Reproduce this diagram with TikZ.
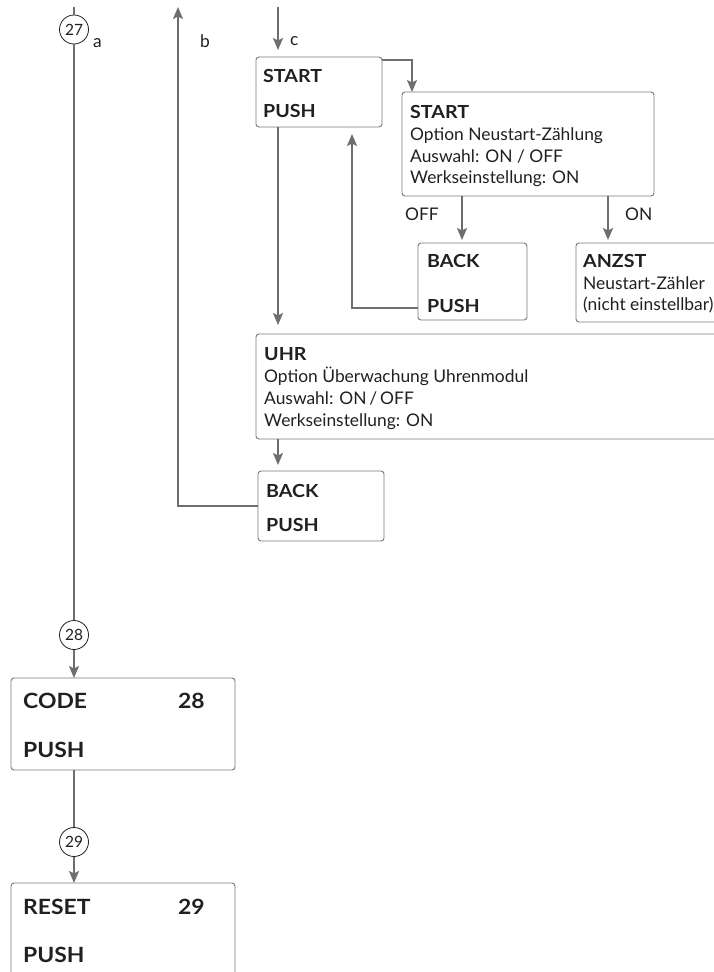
\documentclass[tikz,border=0pt]{standalone}
\usepackage{fontspec}
\setmainfont{Lato}[BoldFeatures={FakeStretch=1.09}]
\usetikzlibrary{arrows.meta}
\definecolor{linegray}{HTML}{6D6E71}
\definecolor{boxgray}{HTML}{77787B}
\definecolor{ink}{HTML}{231F20}
\tikzset{
  box/.style={draw=boxgray, line width=0.9pt, rounded corners=3pt, anchor=north west, inner sep=0pt, outer sep=0pt},
  conn/.style={draw=linegray, line width=2pt},
  arr/.style={conn, -{Stealth[length=12pt,width=10pt,inset=2.5pt]}},
  tx/.style={anchor=base west, inner sep=0pt, text=ink, font=\fontsize{17.4}{21}\selectfont},
  bx/.style={tx, font=\fontsize{18}{21}\selectfont\bfseries},
  bigbx/.style={tx, font=\fontsize{21}{25}\selectfont\bfseries},
  num/.style={circle, draw=ink, line width=0.8pt, minimum size=29pt, inner sep=0pt, text=ink, font=\fontsize{15.5}{17}\selectfont, fill=white},
}
\begin{document}
\begin{tikzpicture}[x=1pt, y=-1pt]
\clip (0,0) rectangle (714,972);
% free ends
\coordinate (atop) at (74,7);
\coordinate (btop) at (178,7);
\coordinate (ctop) at (278,7);
% boxes
\node[box, minimum width=126pt, minimum height=70pt] (start1) at (256,57) {};
\node[box, minimum width=252pt, minimum height=104pt] (start2) at (402,92) {};
\node[box, minimum width=109pt, minimum height=77pt] (back1) at (418,243) {};
\node[box, minimum width=170pt, minimum height=79pt] (anzst) at (576,243) {};
\node[box, minimum width=480pt, minimum height=105pt] (uhr) at (256,334) {};
\node[box, minimum width=126pt, minimum height=70pt] (back2) at (258,471) {};
\node[box, minimum width=224pt, minimum height=92pt] (code) at (11,678) {};
\node[box, minimum width=224pt, minimum height=120pt] (reset) at (11,883) {};
% numbered circles
\node[num] (c27) at (74,29.5) {27};
\node[num] (c28) at (74,635) {28};
\node[num] (c29) at (74,842) {29};
% texts
\node[tx] (la) at (93,47) {a};
\node[tx] (lb) at (200,47) {b};
\node[tx] (lc) at (290,45) {c};
\node[bx] (t1a) at (263,82) {START};
\node[bx] (t1b) at (263,117) {PUSH};
\node[bx] (t2a) at (410,118) {START};
\node[tx] (t2b) at (410,140) {Option Neustart-Zählung};
\node[tx] (t2c) at (410,162) {Auswahl: ON / OFF};
\node[tx] (t2d) at (410,183) {Werkseinstellung: ON};
\node[tx] (loff) at (405,220) {OFF};
\node[tx] (lon) at (625,220) {ON};
\node[bx] (t3a) at (427,267) {BACK};
\node[bx] (t3b) at (427,312) {PUSH};
\node[bx] (t4a) at (583,267) {ANZST};
\node[tx] (t4b) at (583,289) {Neustart-Zähler};
\node[tx] (t4c) at (583,310) {(nicht einstellbar)};
\node[bx] (t5a) at (264,360) {UHR};
\node[tx] (t5b) at (264,382) {Option Überwachung Uhrenmodul};
\node[tx] (t5c) at (264,404) {Auswahl: ON\,/\,OFF};
\node[tx] (t5d) at (264,426) {Werkseinstellung: ON};
\node[bx] (t6a) at (266,497) {BACK};
\node[bx] (t6b) at (266,531) {PUSH};
\node[bigbx] (t7a) at (23,708) {CODE};
\node[bigbx] (t7n) at (178,708) {28};
\node[bigbx] (t7b) at (23,757) {PUSH};
\node[bigbx] (t8a) at (23,914) {RESET};
\node[bigbx] (t8n) at (178,914) {29};
\node[bigbx] (t8b) at (23,962) {PUSH};
% connectors
\draw[conn] (atop) -- (c27);
\draw[conn] (c27) -- (c28);
\draw[arr] (c28) -- (c28 |- code.north);
\draw[conn] (code.south -| c29) -- (c29);
\draw[arr] (c29) -- (c29 |- reset.north);
\draw[arr] (back2.west) -| (btop);
\draw[arr, shorten >=7pt] (ctop) -- (ctop |- start1.north);
\draw[arr] ([yshift=-3pt]start1.north east) -| ([xshift=10pt]start2.north west);
\draw[arr, shorten >=9pt] (start1.south -| ctop) -- (uhr.north -| ctop);
\draw[arr, shorten >=3pt] ([xshift=60pt]start2.south west) -- ([xshift=44pt]back1.north west);
\draw[arr, shorten >=3pt] ([xshift=206pt]start2.south west) -- ([xshift=32pt]anzst.north west);
\draw[arr, shorten >=7pt] ([yshift=12pt]back1.south west) -| ([xshift=96pt]start1.south west);
\draw[arr, shorten >=6pt] ([xshift=22pt]uhr.south west) -- ([xshift=20pt]back2.north west);
\end{tikzpicture}
\end{document}
